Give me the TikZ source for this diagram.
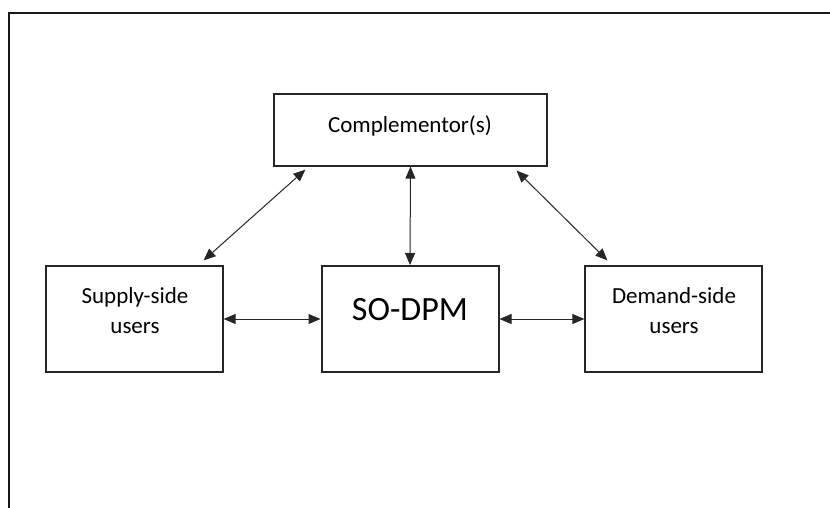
\documentclass[tikz,border=0pt]{standalone}
\usepackage{fontspec}
\setmainfont{Carlito}
\usetikzlibrary{arrows.meta,calc}
\tikzset{
  box/.style={draw=black!85, line width=1.2pt, inner sep=0pt, minimum width=177pt, minimum height=106pt},
  mainbox/.style={box, line width=2pt},
  lbl/.style={font=\fontsize{23}{30}\selectfont, align=center, anchor=base, inner sep=0pt},
  biglbl/.style={font=\fontsize{34}{40}\selectfont, anchor=base, inner sep=0pt},
  link/.style={line width=1pt, black!85, {Triangle[length=12pt,width=10pt]}-{Triangle[length=12pt,width=10pt]}},
}
\begin{document}
\begin{tikzpicture}[x=1pt,y=-1pt]
\useasboundingbox (0,0) rectangle (830,508);
\draw[line width=2.2pt, black!90] (9,509) -- (9,13) -- (831,13);
% boxes
\node[box, minimum width=273pt, minimum height=72pt] (comp) at (410.5,130) {};
\node[box] (sup) at (134.5,319) {};
\node[mainbox] (so) at (410,319) {};
\node[box] (dem) at (673.5,319) {};
% labels
\node[lbl] (compt) at (410,132) {Complementor(s)};
\node[lbl] (supt) at (135,333) {Supply-side\\users};
\node[biglbl] (sot) at (410,320) {SO-DPM};
\node[lbl] (demt) at (674,333) {Demand-side\\users};
% connectors
\draw[link] ($(sup.north east)+(-20,-5)$) -- ($(comp.south west)+(32,3)$);
\draw[link] (comp.south) -- (so.north);
\draw[link] ($(comp.south east)+(-31,4)$) -- ($(dem.north west)+(23,-5)$);
\draw[link] (sup.east) -- (so.west);
\draw[link] (so.east) -- (dem.west);
\end{tikzpicture}
\end{document}
